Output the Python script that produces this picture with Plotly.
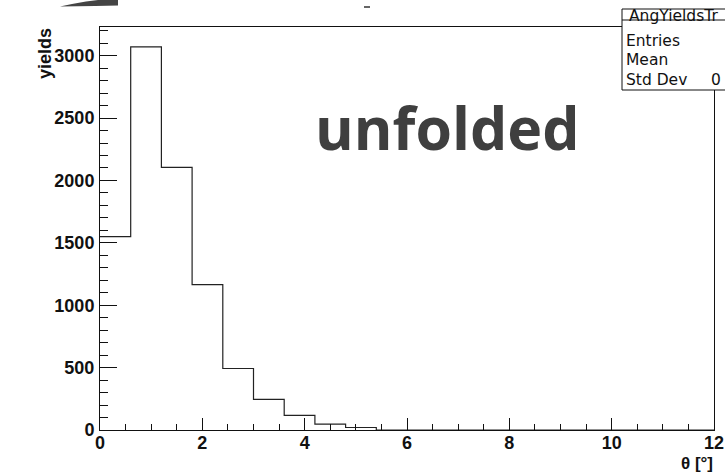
import plotly.graph_objects as go

# ---- data ----
bin_edges = [0.0, 0.6, 1.2, 1.8, 2.4, 3.0, 3.6, 4.2, 4.8, 5.4, 6.0,
             6.6, 7.2, 7.8, 8.4, 9.0, 9.6, 10.2, 10.8, 11.4, 12.0]
yields = [1550, 3070, 2105, 1165, 493, 245, 118, 47, 20, 0,
          0, 0, 0, 0, 0, 0, 0, 0, 0, 0]
x_ticks = [0, 2, 4, 6, 8, 10, 12]
y_ticks = [0, 500, 1000, 1500, 2000, 2500, 3000]
stats_labels = ["Entries", "Mean", "Std Dev"]
hist_name = "AngYieldsTr"

W, H = 725, 474
L, R, T, B = 100, 714, 27, 430


def px(x):
    return (x - L) / (R - L)


def py(y):
    return (B - y) / (B - T)


fig = go.Figure()
fig.add_trace(go.Scatter(
    x=bin_edges, y=yields + [yields[-1]],
    mode="lines", line=dict(shape="hv", color="#222", width=1.2),
    hoverinfo="skip", showlegend=False))

tickfont = dict(family="Liberation Sans", size=18, color="#111", weight="bold")
statfont = dict(family="DejaVu Sans", size=15.5, color="#111")

fig.update_layout(
    width=W, height=H,
    margin=dict(l=L, r=W - R, t=T, b=H - B, pad=0, autoexpand=False),
    paper_bgcolor="white", plot_bgcolor="white",
    xaxis=dict(range=[0, 12], tickvals=x_ticks, ticks="inside", ticklen=12,
               tickcolor="#111", tickwidth=1, automargin=False,
               ticklabeloverflow="allow", ticklabelstandoff=-4,
               minor=dict(dtick=0.5, ticks="inside", ticklen=6, tickcolor="#111"),
               showline=True, linecolor="#111", linewidth=1, mirror=True,
               showgrid=False, zeroline=False, tickfont=tickfont),
    yaxis=dict(range=[0, 3230], tickvals=y_ticks, ticks="inside", ticklen=17,
               tickcolor="#111", tickwidth=1, automargin=False,
               ticklabelstandoff=1,
               minor=dict(dtick=100, ticks="inside", ticklen=8, tickcolor="#111"),
               showline=True, linecolor="#111", linewidth=1, mirror=True,
               showgrid=False, zeroline=False, tickfont=tickfont),
)

ann = []
# axis titles
ann.append(dict(text="θ [°]", xref="paper", yref="paper", x=px(715), y=py(463),
                xanchor="right", yanchor="middle", showarrow=False,
                font=dict(family="Liberation Sans", size=17, color="#111", weight="bold")))
ann.append(dict(text="yields", xref="paper", yref="paper", x=px(45), y=py(54),
                xanchor="center", yanchor="middle", textangle=-90, showarrow=False,
                font=dict(family="Liberation Sans", size=18, color="#111", weight="bold")))
# big watermark text
ann.append(dict(text="unfolded", xref="paper", yref="paper", x=px(447), y=py(127),
                xanchor="center", yanchor="middle", showarrow=False,
                font=dict(family="Open Sans", size=59, color="#3f3f3f", weight="bold")))

shapes = []
# stats box
shapes.append(dict(type="rect", xref="paper", yref="paper",
                   x0=px(622), x1=px(820), y0=py(90), y1=py(9),
                   fillcolor="white", line=dict(color="#111", width=1), layer="above"))
shapes.append(dict(type="line", xref="paper", yref="paper",
                   x0=px(622), x1=px(820), y0=py(20), y1=py(20),
                   line=dict(color="#111", width=1), layer="above"))
ann.append(dict(text=hist_name, xref="paper", yref="paper", x=px(627), y=py(16),
                xanchor="left", yanchor="middle", showarrow=False, font=statfont))
for lab, yy in zip(stats_labels, [41, 60.5, 80]):
    ann.append(dict(text=lab, xref="paper", yref="paper", x=px(624), y=py(yy),
                    xanchor="left", yanchor="middle", showarrow=False, font=statfont))
ann.append(dict(text="0", xref="paper", yref="paper", x=px(709), y=py(80),
                xanchor="left", yanchor="middle", showarrow=False, font=statfont))

# fragments at the top edge
pts = [(60, 6.5), (72, 4), (86, 1.5), (98, 0), (118, 0), (118, 5.5), (95, 6), (60, 6.5)]
path = "M " + " L ".join(f"{px(a):.5f},{py(b):.5f}" for a, b in pts) + " Z"
shapes.append(dict(type="path", xref="paper", yref="paper", path=path,
                   fillcolor="#444", line=dict(width=0), layer="above"))
shapes.append(dict(type="line", xref="paper", yref="paper",
                   x0=px(364), x1=px(370), y0=py(7), y1=py(7),
                   line=dict(color="#333", width=1.5), layer="above"))

fig.update_layout(annotations=ann, shapes=shapes)
fig.write_html("out.html")
